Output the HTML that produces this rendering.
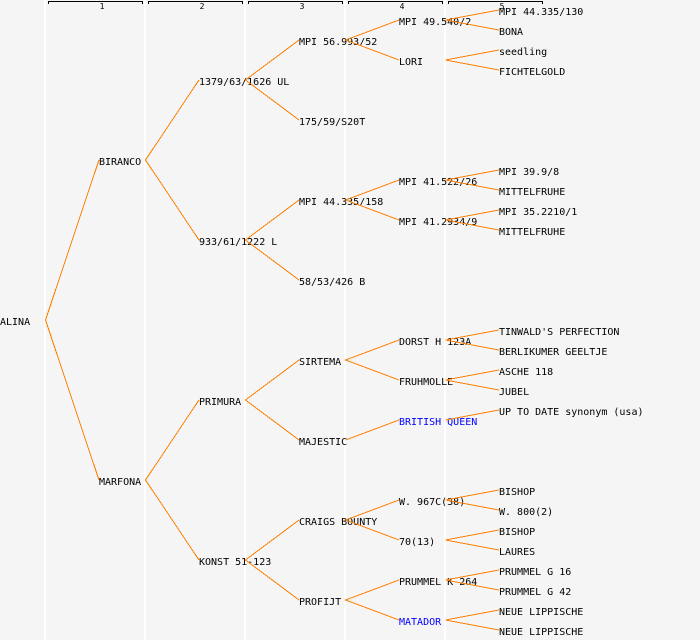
<!DOCTYPE html>
<html>
<head>
<meta charset="utf-8">
<style>
html,body{margin:0;padding:0;background:#f5f5f5;width:700px;height:640px;overflow:hidden}
svg{display:block}
text{font-family:"DejaVu Sans Mono","Liberation Mono",monospace;font-size:10px;fill:#000}
text.b{fill:#0000ff}
text.n{font-size:8px;text-anchor:middle}
</style>
</head>
<body>
<svg width="700" height="640" viewBox="0 0 700 640" xmlns="http://www.w3.org/2000/svg">
<rect width="700" height="640" fill="#f5f5f5"/>
<g fill="#ffffff">
<rect x="44" y="0" width="2" height="640"/>
<rect x="144" y="0" width="2" height="640"/>
<rect x="244" y="0" width="2" height="640"/>
<rect x="344" y="0" width="2" height="640"/>
<rect x="444" y="0" width="2" height="640"/>
</g>
<g fill="none" stroke="#000" stroke-width="1" shape-rendering="crispEdges">
<path d="M48.5 4V1.5H142.5V4"/>
<path d="M148.5 4V1.5H242.5V4"/>
<path d="M248.5 4V1.5H342.5V4"/>
<path d="M348.5 4V1.5H442.5V4"/>
<path d="M448.5 4V1.5H542.5V4"/>
</g>
<text class="n" x="102" y="9">1</text>
<text class="n" x="202" y="9">2</text>
<text class="n" x="302" y="9">3</text>
<text class="n" x="402" y="9">4</text>
<text class="n" x="502" y="9">5</text>

<g transform="translate(0,-1)">
<text x="0" y="326">ALINA</text>
<text x="99" y="166">BIRANCO</text>
<text x="99" y="486">MARFONA</text>
<text x="199" y="86">1379/63/1626 UL</text>
<text x="199" y="246">933/61/1222 L</text>
<text x="199" y="406">PRIMURA</text>
<text x="199" y="566">KONST 51-123</text>
<text x="299" y="46">MPI 56.993/52</text>
<text x="299" y="126">175/59/S20T</text>
<text x="299" y="206">MPI 44.335/158</text>
<text x="299" y="286">58/53/426 B</text>
<text x="299" y="366">SIRTEMA</text>
<text x="299" y="446">MAJESTIC</text>
<text x="299" y="526">CRAIGS BOUNTY</text>
<text x="299" y="606">PROFIJT</text>
<text x="399" y="26">MPI 49.540/2</text>
<text x="399" y="66">LORI</text>
<text x="399" y="186">MPI 41.522/26</text>
<text x="399" y="226">MPI 41.2934/9</text>
<text x="399" y="346">DORST H 123A</text>
<text x="399" y="386">FRUHMOLLE</text>
<text class="b" x="399" y="426">BRITISH QUEEN</text>
<text x="399" y="506">W. 967C(38)</text>
<text x="399" y="546">70(13)</text>
<text x="399" y="586">PRUMMEL K 264</text>
<text class="b" x="399" y="626">MATADOR</text>
<text x="499" y="16">MPI 44.335/130</text>
<text x="499" y="36">BONA</text>
<text x="499" y="56">seedling</text>
<text x="499" y="76">FICHTELGOLD</text>
<text x="499" y="176">MPI 39.9/8</text>
<text x="499" y="196">MITTELFRUHE</text>
<text x="499" y="216">MPI 35.2210/1</text>
<text x="499" y="236">MITTELFRUHE</text>
<text x="499" y="336">TINWALD'S PERFECTION</text>
<text x="499" y="356">BERLIKUMER GEELTJE</text>
<text x="499" y="376">ASCHE 118</text>
<text x="499" y="396">JUBEL</text>
<text x="499" y="416">UP TO DATE synonym (usa)</text>
<text x="499" y="496">BISHOP</text>
<text x="499" y="516">W. 800(2)</text>
<text x="499" y="536">BISHOP</text>
<text x="499" y="556">LAURES</text>
<text x="499" y="576">PRUMMEL G 16</text>
<text x="499" y="596">PRUMMEL G 42</text>
<text x="499" y="616">NEUE LIPPISCHE</text>
<text x="499" y="636">NEUE LIPPISCHE</text>
</g>

<g fill="none" stroke="#ff8000" stroke-width="1" shape-rendering="crispEdges">
<path d="M99 160L45.500 320L99 480"/>
<path d="M199 80L145.500 160L199 240"/>
<path d="M199 400L145.500 480L199 560"/>
<path d="M299 40L245.500 80L299 120"/>
<path d="M299 200L245.500 240L299 280"/>
<path d="M299 360L245.500 400L299 440"/>
<path d="M299 520L245.500 560L299 600"/>
<path d="M399 20L345.500 40L399 60"/>
<path d="M399 180L345.500 200L399 220"/>
<path d="M399 340L345.500 360L399 380"/>
<path d="M399 420L345.500 440"/>
<path d="M399 500L345.500 520L399 540"/>
<path d="M399 580L345.500 600L399 620"/>
<path d="M499 10L445.500 20L499 30"/>
<path d="M499 50L445.500 60L499 70"/>
<path d="M499 170L445.500 180L499 190"/>
<path d="M499 210L445.500 220L499 230"/>
<path d="M499 330L445.500 340L499 350"/>
<path d="M499 370L445.500 380L499 390"/>
<path d="M499 410L445.500 420"/>
<path d="M499 490L445.500 500L499 510"/>
<path d="M499 530L445.500 540L499 550"/>
<path d="M499 570L445.500 580L499 590"/>
<path d="M499 610L445.500 620L499 630"/>
</g>
</svg>
</body>
</html>
